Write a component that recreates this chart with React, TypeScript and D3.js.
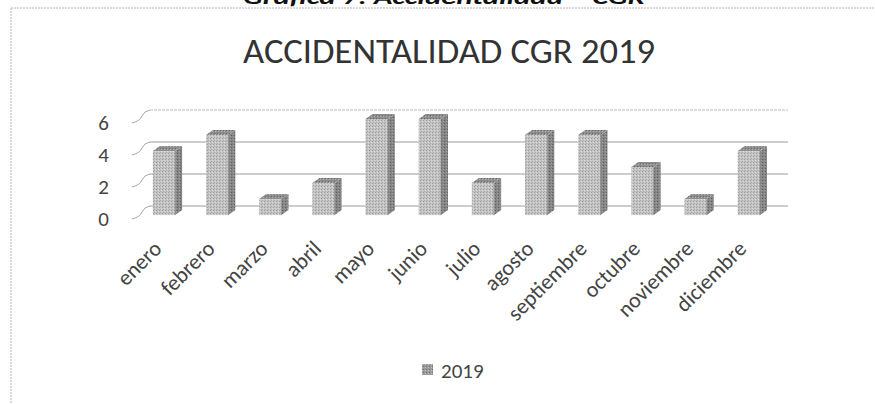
import React from "react";
import * as d3 from "d3";

const months = ["enero", "febrero", "marzo", "abril", "mayo", "junio", "julio", "agosto", "septiembre", "octubre", "noviembre", "diciembre"];
const values2019 = [4, 5, 1, 2, 6, 6, 2, 5, 5, 3, 1, 4];
const yTicks = [0, 2, 4, 6];
const seriesName = "2019";
const chartTitle = "ACCIDENTALIDAD CGR 2019";
const captionText = "Gráfica 7: Accidentalidad – CGR";

const W = 875;
const H = 404;
const FONT = "Carlito, Lato, 'Open Sans', sans-serif";

export default function App() {
  // 3D geometry
  const frontLeft = 132;
  const frontRight = 770;
  const floorFront = 219;
  const depthX = 18;
  const depthY = -13;
  const barOffX = 5.4;
  const barOffY = -3.9;
  const barDX = 7;
  const barDY = -5;

  const x = d3.scaleBand<string>().domain(months).range([frontLeft, frontRight]).padding(0);
  const h = d3.scaleLinear().domain([0, 6]).range([0, 96]);
  const barW = x.bandwidth() * 0.42;

  const backY = (v: number) => floorFront + depthY - h(v);
  const frontY = (v: number) => floorFront - h(v);

  return (
    <div style={{ position: "absolute", left: 0, top: 0 }}>
      <svg width={W} height={H} style={{ display: "block", background: "#fff" }}>
        <defs>
          <pattern id="frontTex" width="3" height="3" patternUnits="userSpaceOnUse">
            <rect width="3" height="3" fill="#c4c4c4" />
            <rect x="0" y="0" width="1" height="1" fill="#9c9c9c" />
            <rect x="2" y="1" width="1" height="1" fill="#dadada" />
            <rect x="1" y="2" width="1" height="1" fill="#aaaaaa" />
          </pattern>
          <pattern id="sideTex" width="3" height="3" patternUnits="userSpaceOnUse">
            <rect width="3" height="3" fill="#868686" />
            <rect x="0" y="0" width="1" height="1" fill="#5e5e5e" />
            <rect x="2" y="1" width="1" height="1" fill="#a0a0a0" />
          </pattern>
          <pattern id="topTex" width="3" height="3" patternUnits="userSpaceOnUse">
            <rect width="3" height="3" fill="#8e8e8e" />
            <rect x="1" y="1" width="1" height="1" fill="#6a6a6a" />
            <rect x="2" y="2" width="1" height="1" fill="#b0b0b0" />
          </pattern>
          <pattern id="legTex" width="3" height="3" patternUnits="userSpaceOnUse">
            <rect width="3" height="3" fill="#9a9a9a" />
            <rect x="0" y="0" width="1" height="1" fill="#707070" />
            <rect x="2" y="1" width="1" height="1" fill="#bdbdbd" />
          </pattern>
        </defs>

        {/* caption (cut at top) */}
        <text
          x={243}
          y={4}
          fontFamily={FONT}
          fontWeight="bold"
          fontStyle="italic"
          fontSize={21}
          fill="#111"
          textLength={402}
          lengthAdjust="spacingAndGlyphs"
        >
          {captionText}
        </text>

        {/* chart border */}
        <line x1={11} y1={8} x2={W} y2={8} stroke="#b4b4b4" strokeWidth={1} strokeDasharray="2 1" />
        <line x1={11} y1={8} x2={11} y2={H} stroke="#b4b4b4" strokeWidth={1} strokeDasharray="2 1" />

        {/* title */}
        <text
          x={243}
          y={63}
          fontFamily={FONT}
          fontSize={34}
          fill="#333"
          textLength={412}
          lengthAdjust="spacingAndGlyphs"
        >
          {chartTitle}
        </text>

        {/* gridlines: back wall + side wall */}
        {yTicks.map((v) => (
          <g key={v}>
            <line
              x1={frontLeft + depthX}
              x2={frontRight + depthX}
              y1={backY(v)}
              y2={backY(v)}
              stroke={v === 6 ? "#bdbdbd" : "#9c9c9c"}
              strokeWidth={1.2}
              strokeDasharray={v === 6 ? "3 1" : undefined}
            />
            <path
              d={`M${frontLeft},${frontY(v)} Q${frontLeft + 8},${frontY(v) - 2} ${frontLeft + 10},${frontY(v) - 7} T${frontLeft + depthX},${backY(v)}`}
              fill="none"
              stroke="#a8a8a8"
              strokeWidth={1}
            />
            <text
              x={109}
              y={frontY(v)}
              dy="0.35em"
              textAnchor="end"
              fontFamily={FONT}
              fontSize={21}
              fill="#444"
            >
              {v}
            </text>
          </g>
        ))}

        {/* bars */}
        {months.map((m, i) => {
          const v = values2019[i];
          const cx = (x(m) as number) + x.bandwidth() / 2 + barOffX;
          const x1 = cx - barW / 2;
          const x2 = cx + barW / 2;
          const yb = floorFront + barOffY;
          const yt = yb - h(v);
          return (
            <g key={m}>
              <polygon
                points={`${x2},${yt} ${x2 + barDX},${yt + barDY} ${x2 + barDX},${yb + barDY} ${x2},${yb}`}
                fill="url(#sideTex)"
              />
              <polygon
                points={`${x1},${yt} ${x2},${yt} ${x2 + barDX},${yt + barDY} ${x1 + barDX},${yt + barDY}`}
                fill="url(#topTex)"
              />
              <rect x={x1} y={yt} width={barW} height={yb - yt} fill="url(#frontTex)" />
              <line x1={x2} x2={x2} y1={yt} y2={yb} stroke="#8a8a8a" strokeWidth={0.8} />
            </g>
          );
        })}

        {/* category labels */}
        {months.map((m) => {
          const cx = (x(m) as number) + x.bandwidth() / 2 + barOffX;
          const ax = cx - 1;
          const ay = 250;
          return (
            <text
              key={m}
              x={ax}
              y={ay}
              textAnchor="end"
              transform={`rotate(-45 ${ax} ${ay})`}
              fontFamily={FONT}
              fontSize={22}
              fill="#444"
            >
              {m}
            </text>
          );
        })}

        {/* legend */}
        <rect x={422} y={364} width={11} height={11} fill="url(#legTex)" />
        <text x={441} y={378} fontFamily={FONT} fontSize={21} fill="#444">
          {seriesName}
        </text>
      </svg>
    </div>
  );
}
